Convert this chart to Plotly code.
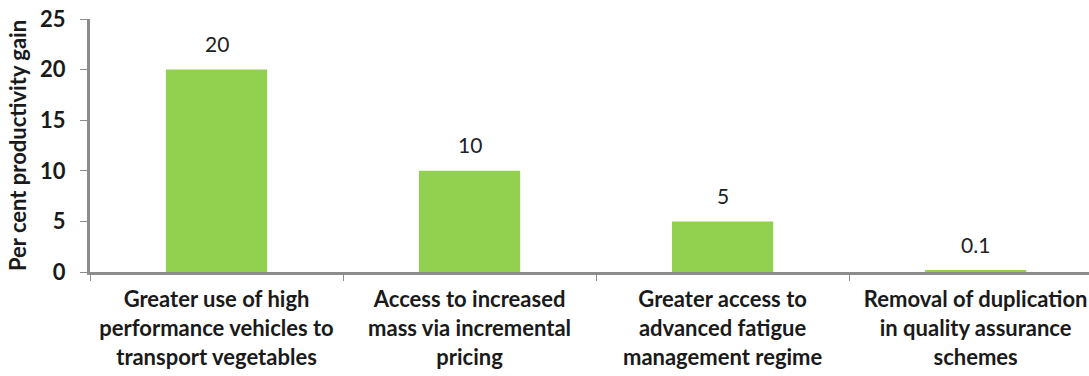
import plotly.graph_objects as go

categories = [
    "Greater use of high<br>performance vehicles to<br>transport vegetables",
    "Access to increased<br>mass via incremental<br>pricing",
    "Greater access to<br>advanced fatigue<br>management regime",
    "Removal of duplication<br>in quality assurance<br>schemes",
]
gains = [20, 10, 5, 0.1]
value_labels = ["20", "10", "5", "0.1"]
y_ticks = [0, 5, 10, 15, 20, 25]

FONT = "Lato, Carlito, 'Open Sans', sans-serif"
AXIS_GREY = "#8c8c8c"

fig = go.Figure(
    go.Bar(
        x=categories,
        y=gains,
        width=0.4,
        marker=dict(color="#92D050", line=dict(width=0)),
        hoverinfo="skip",
    )
)

for cat, val, lab in zip(categories, gains, value_labels):
    fig.add_annotation(
        x=cat, y=val, text=lab, showarrow=False,
        yshift=26, yanchor="middle",
        font=dict(family=FONT, size=21, color="#222222"),
    )

fig.update_layout(
    width=1089, height=376,
    margin=dict(l=90, r=0, t=19, b=104),
    paper_bgcolor="white", plot_bgcolor="white",
    showlegend=False,
    bargap=0.6,
)

fig.update_xaxes(
    range=[-0.5, 3.448],
    showline=True, linecolor=AXIS_GREY, linewidth=3,
    ticks="outside", tickson="boundaries", ticklen=6, tickcolor=AXIS_GREY, tickwidth=1,
    tickfont=dict(family=FONT, size=22, color="#1a1a1a", weight="bold"),
    ticklabelstandoff=6,
    showgrid=False, zeroline=False,
)

fig.update_yaxes(
    range=[0, 25],
    tickvals=y_ticks,
    showline=True, linecolor=AXIS_GREY, linewidth=3,
    ticks="outside", ticklen=7, tickcolor=AXIS_GREY, tickwidth=1,
    tickfont=dict(family=FONT, size=22, color="#1a1a1a", weight="bold"),
    ticklabelstandoff=10,
    showgrid=False, zeroline=False,
    title=dict(text="Per cent productivity gain", standoff=8,
               font=dict(family=FONT, size=22, color="#1a1a1a", weight="bold")),
)

fig.write_html("out.html")
